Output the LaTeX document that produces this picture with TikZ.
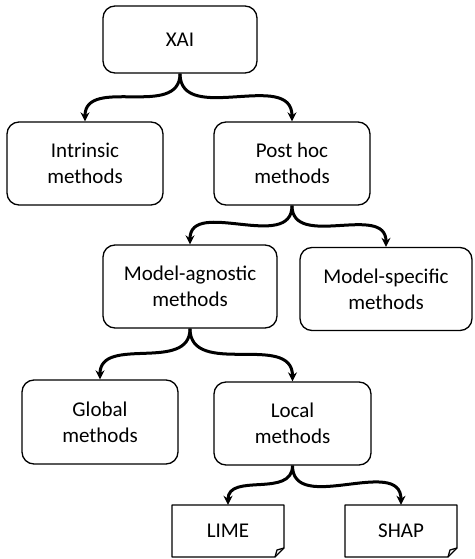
\documentclass[tikz,border=0pt]{standalone}
\usepackage{fontspec}
\setmainfont{Carlito}
\usetikzlibrary{arrows.meta}
\begin{document}
\begin{tikzpicture}[x=1pt,y=-1pt,
  box/.style={draw=black,line width=1.3pt,rounded corners=12pt,fill=white,
    align=center,font=\fontsize{21}{26}\selectfont,inner sep=0pt},
  doc/.style={align=center,font=\fontsize{21}{26}\selectfont,inner sep=0pt},
  conn/.style={line width=3pt,-{Stealth[length=9pt,width=9pt]},out=-90,in=90,looseness=1.1},
  docline/.style={draw=black,line width=1.3pt,line join=round}]
\useasboundingbox (0,0) rectangle (474,559);
% boxes
\node[box,minimum width=154pt,minimum height=67pt] (xai) at (180,39.5) {XAI};
\node[box,minimum width=156pt,minimum height=83pt] (intr) at (85,163.5) {Intrinsic\\methods};
\node[box,minimum width=156pt,minimum height=83pt] (post) at (292,163.5) {Post hoc\\methods};
\node[box,minimum width=174pt,minimum height=83pt] (agn) at (190,286.5) {Model-agnostic\\methods};
\node[box,minimum width=172pt,minimum height=83pt] (spec) at (386,289) {Model-specific\\methods};
\node[box,minimum width=156pt,minimum height=84pt] (glob) at (100,422) {Global\\methods};
\node[box,minimum width=157pt,minimum height=83pt] (loc) at (292.5,423.5) {Local\\methods};
% documents
\draw[docline] (172,505) -- (284,505) -- (284,548) -- (275,557) -- (172,557) -- cycle;
\draw[docline] (284,548) -- (277,550) -- (275,557);
\draw[docline] (345,505) -- (457,505) -- (457,548) -- (448,557) -- (345,557) -- cycle;
\draw[docline] (457,548) -- (450,550) -- (448,557);
\node[doc,minimum width=112pt,minimum height=52pt] (lime) at (228,531) {LIME};
\node[doc,minimum width=112pt,minimum height=52pt] (shap) at (401,531) {SHAP};
% connectors
\draw[conn] (xai.south) to (intr.north);
\draw[conn] (xai.south) to (post.north);
\draw[conn] (post.south) to (agn.north);
\draw[conn] (post.south) to (spec.north);
\draw[conn] (agn.south) to (glob.north);
\draw[conn] (agn.south) to (loc.north);
\draw[conn] (loc.south) to (lime.north);
\draw[conn] (loc.south) to (shap.north);
\end{tikzpicture}
\end{document}
